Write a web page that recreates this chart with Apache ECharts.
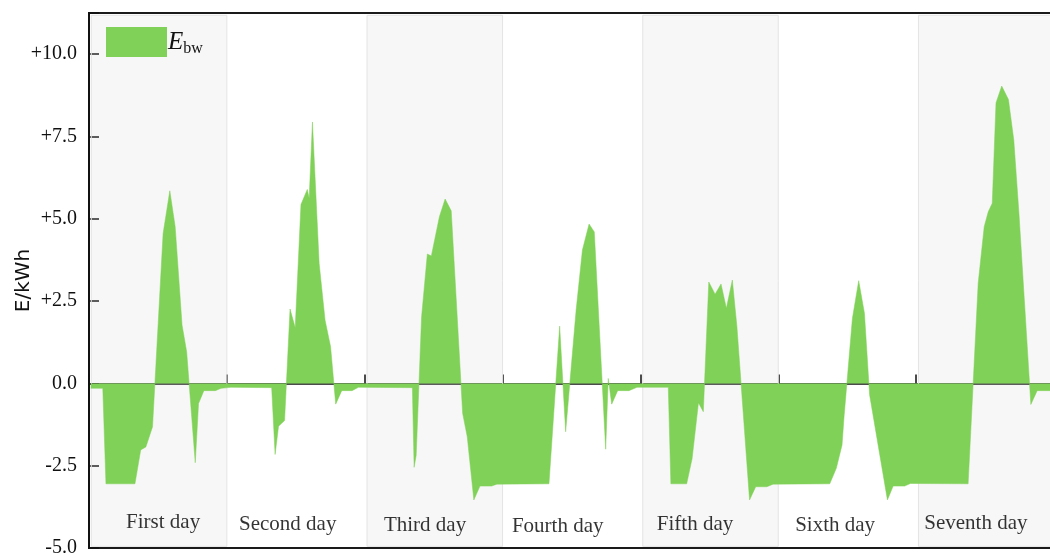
<!DOCTYPE html>
<html>
<head>
<meta charset="utf-8">
<script src="https://cdn.jsdelivr.net/npm/echarts@6/dist/echarts.min.js"></script>
<style>html,body{margin:0;padding:0;background:#fff}#c{width:1050px;height:558px}</style>
</head>
<body>
<div id="c"></div>
<script>
// Hour positions (0..168 = seven days) and energy values (kWh)
const hours = [0.3,2.4,2.95,8.0,9.0,9.9,11.06,12.9,14.07,15.0,16.2,17.0,18.5,19.07,20.0,22.0,23.0,24.7,
  31.8,32.4,33.0,34.05,35.0,35.9,36.9,38.0,38.33,38.9,40.07,41.1,42.06,42.95,44.0,45.8,46.9,
  56.3,56.6,56.96,57.9,58.9,59.6,61.0,62.0,63.06,65.05,65.85,67.0,68.06,70.1,71.0,
  80.08,81.94,82.98,84.8,85.9,87.06,87.97,89.95,90.4,91.0,92.04,94.0,95.4,
  100.85,101.3,104.05,105.0,106.1,106.95,107.9,109.0,110.03,110.96,112.0,112.8,115.0,116.07,118.0,119.1,
  128.96,130.1,131.1,131.45,132.9,134.0,135.0,135.9,139.0,140.0,142.0,143.0,
  153.05,154.8,155.85,156.55,157.25,157.9,158.9,160.07,161.0,161.9,163.97,165.07,168.0];
const ebw = [-0.15,-0.15,-3.05,-3.05,-2.02,-1.93,-1.32,4.55,5.85,4.76,1.77,0.96,-2.41,-0.61,-0.22,-0.22,-0.15,-0.12,
  -0.13,-2.16,-1.3,-1.13,2.26,1.69,5.43,5.89,5.62,7.94,3.64,1.92,1.11,-0.63,-0.22,-0.22,-0.12,
  -0.13,-2.55,-2.18,2.02,3.93,3.87,5.06,5.6,5.24,-0.91,-1.62,-3.54,-3.12,-3.12,-3.06,
  -3.05,1.74,-1.47,2.22,4.05,4.84,4.6,-2.0,0.15,-0.63,-0.22,-0.22,-0.12,
  -0.12,-3.05,-3.05,-2.28,-0.59,-0.86,3.08,2.71,3.02,2.28,3.14,1.72,-3.54,-3.14,-3.14,-3.06,
  -3.05,-2.58,-1.87,-1.01,1.97,3.12,2.13,-0.35,-3.54,-3.12,-3.12,-3.04,
  -3.05,3.04,4.76,5.21,5.47,8.52,9.03,8.62,7.39,5.16,-0.64,-0.22,-0.22];

const dayLabels = ['First day','Second day','Third day','Fourth day','Fifth day','Sixth day','Seventh day'];
const dayLabelHours = [12.9,34.6,58.5,81.6,105.5,129.9,154.4];
const dayLabelValues = [-4.21,-4.3,-4.33,-4.35,-4.3,-4.33,-4.25];
const shadedDays = [0,2,4,6];

const yTicks = [-5,-2.5,0,2.5,5,7.5,10];
const yTickLabels = ['-5.0','-2.5','0.0','+2.5','+5.0','+7.5','+10.0'];

const GREEN = '#80D158';
const serif = 'Liberation Serif';

const chart = echarts.init(document.getElementById('c'), null, {renderer:'canvas'});
const seriesData = hours.map((h,i)=>[h, ebw[i]]);

chart.setOption({
  animation:false,
  backgroundColor:'#fff',
  grid:{left:89, top:13, right:-4, bottom:10, containLabel:false, outerBoundsMode:'none',
        show:true, borderColor:'#1a1a1a', borderWidth:2, backgroundColor:'transparent'},
  legend:{
    left:101, top:22, itemWidth:61, itemHeight:30, icon:'rect', itemGap:0,
    data:[{name:'E_bw', itemStyle:{color:GREEN}}],
    formatter:()=>'{e|E}{s|bw}',
    textStyle:{
      padding:[0,0,0,-4],
      rich:{
        e:{fontFamily:serif, fontStyle:'italic', fontSize:25, color:'#111', lineHeight:30, verticalAlign:'middle'},
        s:{fontFamily:serif, fontSize:16, color:'#111', lineHeight:12, verticalAlign:'bottom'}
      }
    }
  },
  xAxis:{
    type:'value', min:0, max:168, interval:24,
    axisLine:{onZero:true, lineStyle:{color:'#111', width:1.5}},
    axisTick:{show:true, inside:true, length:9, lineStyle:{color:'#111', width:1.5}},
    axisLabel:{show:false},
    splitLine:{show:false}
  },
  yAxis:{
    type:'value', min:-5, max:11.25, interval:2.5,
    name:'E/kWh', nameLocation:'middle', nameGap:55, nameRotate:90, nameMoveOverlap:false,
    nameTextStyle:{fontFamily:'DejaVu Sans', fontSize:20, color:'#111'},
    axisLine:{show:true, lineStyle:{color:'#111', width:2}},
    axisTick:{show:true, inside:true, length:10, lineStyle:{color:'#111', width:1.5}},
    axisLabel:{
      margin:12, fontFamily:serif, fontSize:20, color:'#111',
      formatter:v=>{const i=yTicks.indexOf(v); return i>=0?yTickLabels[i]:'';}
    },
    splitLine:{show:false}
  },
  series:[
    {
      name:'E_bw', type:'line', data:seriesData, showSymbol:false, symbol:'none',
      z:2,
      itemStyle:{color:GREEN},
      lineStyle:{color:GREEN, width:0.5},
      areaStyle:{color:GREEN, opacity:1, origin:0}
    },
    {
      name:'bands', type:'line', data:[], z:3, silent:true,
      markArea:{
        silent:true,
        itemStyle:{color:'rgba(200,200,200,0.14)', borderColor:'#e4e4e4', borderWidth:1},
        data: shadedDays.map(d=>[{xAxis:d*24+0.4, yAxis:-4.95},{xAxis:(d+1)*24, yAxis:11.18}])
      }
    },
    {
      name:'labels', type:'scatter', symbolSize:0, z:4, silent:true,
      data: dayLabels.map((t,i)=>({name:t, value:[dayLabelHours[i], dayLabelValues[i]]})),
      label:{show:true, position:'inside', formatter:p=>p.name, fontFamily:serif, fontSize:21, color:'#000'}
    }
  ]
});
</script>
</body>
</html>
